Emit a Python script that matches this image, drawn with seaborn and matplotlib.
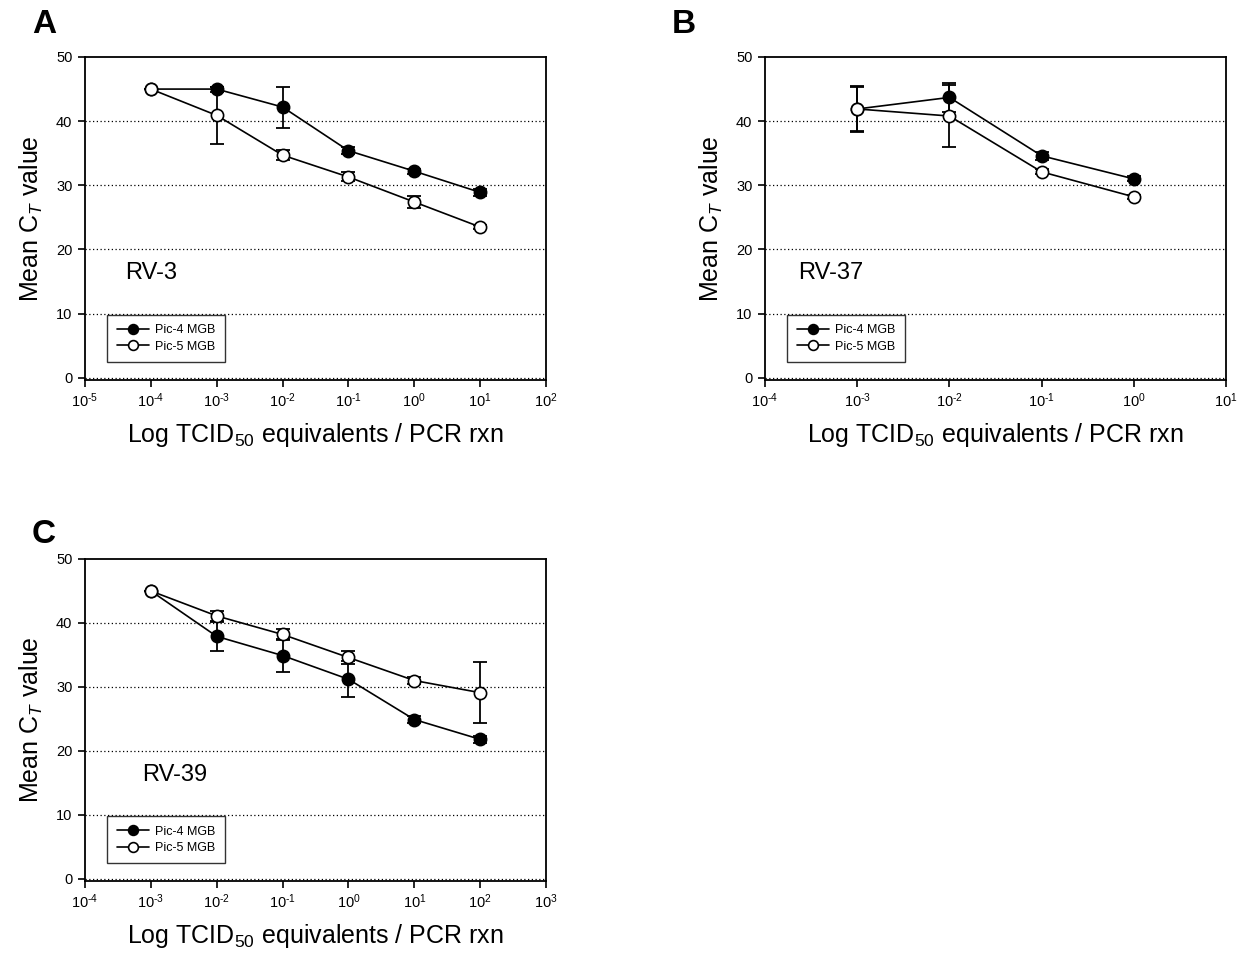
import numpy as np
import pandas as pd
import matplotlib
matplotlib.use("Agg")
import matplotlib.pyplot as plt
import seaborn as sns

sns.set_theme(style="white")
plt.rcParams["font.family"] = ["Liberation Sans", "DejaVu Sans"]
plt.rcParams["mathtext.fontset"] = "custom"
plt.rcParams["mathtext.rm"] = "Liberation Sans"
plt.rcParams["mathtext.it"] = "Liberation Sans:italic"
plt.rcParams["mathtext.bf"] = "Liberation Sans:bold"
for key in ["text.color", "axes.labelcolor", "xtick.color", "ytick.color",
            "axes.edgecolor"]:
    plt.rcParams[key] = "black"

# ---- data: dilution (TCID50 equivalents / reaction), mean CT and error ----
rv3_x = [1e-4, 1e-3, 1e-2, 1e-1, 1e0, 1e1]
rv3_pic4 = [45.0, 45.0, 42.2, 35.4, 32.2, 28.9]
rv3_pic4_err = [0.0, 0.4, 3.2, 0.5, 0.4, 0.5]
rv3_pic5 = [45.0, 40.9, 34.7, 31.3, 27.4, 23.5]
rv3_pic5_err = [0.0, 4.5, 0.8, 0.7, 0.9, 0.3]

rv37_x = [1e-3, 1e-2, 1e-1, 1e0]
rv37_pic4 = [41.9, 43.7, 34.6, 31.0]
rv37_pic4_err = [3.5, 2.3, 0.6, 0.4]
rv37_pic5 = [41.9, 40.8, 32.1, 28.2]
rv37_pic5_err = [3.6, 4.9, 0.4, 0.3]

rv39_x = [1e-3, 1e-2, 1e-1, 1e0, 1e1, 1e2]
rv39_pic4 = [45.0, 37.9, 34.9, 31.2, 24.9, 21.8]
rv39_pic4_err = [0.0, 2.3, 2.6, 2.8, 0.5, 0.5]
rv39_pic5 = [45.0, 41.1, 38.2, 34.6, 31.0, 29.1]
rv39_pic5_err = [0.0, 0.8, 0.8, 1.0, 0.5, 4.8]

series_names = ["Pic-4 MGB", "Pic-5 MGB"]

W, H = 1244, 957
fig = plt.figure(figsize=(W / 100, H / 100), dpi=100)


def px_axes(left, top, right, bottom):
    return fig.add_axes([left / W, 1 - bottom / H, (right - left) / W, (bottom - top) / H])


def decade_label(k):
    sign = r"\text{-}" if k < 0 else ""
    return r"$\mathregular{10^{%s%d}}$" % (sign, abs(k))


def draw_panel(ax, x, p4, p4e, p5, p5e, xlim_exp, tag, tag_pos):
    frames = []
    for name, y, e in [(series_names[0], p4, p4e), (series_names[1], p5, p5e)]:
        frames.append(pd.DataFrame({"dose": x, "ct": y, "err": e, "probe": name}))
    df = pd.concat(frames, ignore_index=True)

    # dotted horizontal reference lines
    for g in [0, 10, 20, 30, 40]:
        ax.axhline(g, color="black", lw=0.9, ls=(0, (1, 2)), zorder=0.5)

    faces = {series_names[0]: "black", series_names[1]: "white"}
    for name in series_names:
        sub = df[df["probe"] == name]
        ax.errorbar(sub["dose"], sub["ct"], yerr=sub["err"], fmt="none",
                    ecolor="black", elinewidth=1.3, capsize=4.8, capthick=1.3,
                    zorder=2)
        sns.lineplot(data=sub, x="dose", y="ct", ax=ax, color="black",
                     lw=1.2, marker="o", markersize=8.8,
                     markerfacecolor=faces[name], markeredgecolor="black",
                     markeredgewidth=1.2, label=name, zorder=3,
                     errorbar=None, sort=False)

    ax.set_xscale("log")
    ax.set_xlim(10.0 ** xlim_exp[0], 10.0 ** xlim_exp[1])
    ax.set_ylim(-0.35, 50)
    exps = list(range(xlim_exp[0], xlim_exp[1] + 1))
    ax.set_xticks([10.0 ** k for k in exps])
    ax.set_xticklabels([decade_label(k) for k in exps])
    ax.xaxis.set_minor_locator(matplotlib.ticker.NullLocator())
    ax.set_yticks([0, 10, 20, 30, 40, 50])
    ax.tick_params(axis="both", direction="out", length=5, width=1.2,
                   labelsize=10.5, colors="black", pad=4)
    ax.tick_params(axis="x", bottom=True, top=False, pad=3)
    ax.tick_params(axis="y", left=True, right=False)
    for s in ax.spines.values():
        s.set_color("black")
        s.set_linewidth(1.3)

    ax.set_xlabel(r"Log TCID$\mathregular{_{50}}$ equivalents / PCR rxn",
                  fontsize=18, labelpad=8)
    ax.set_ylabel(r"Mean C$\mathregular{_{\mathit{T}}}$ value", fontsize=18,
                  labelpad=8)

    ax.text(tag_pos[0], tag_pos[1], tag, transform=ax.transAxes,
            fontsize=17, va="center", ha="left", color="black")

    leg = ax.legend(loc="lower left", bbox_to_anchor=(0.048, 0.055),
                    fontsize=9, frameon=True, fancybox=False,
                    edgecolor="black", handlelength=2.6, handletextpad=0.5,
                    borderpad=0.75, labelspacing=0.35, borderaxespad=0,
                    markerscale=0.8)
    leg.get_frame().set_linewidth(1.0)
    for t in leg.get_texts():
        t.set_color("black")


axA = px_axes(85, 57, 546, 380)
draw_panel(axA, rv3_x, rv3_pic4, rv3_pic4_err, rv3_pic5, rv3_pic5_err,
           (-5, 2), "RV-3", (0.087, 0.33))

axB = px_axes(765, 57, 1226, 380)
draw_panel(axB, rv37_x, rv37_pic4, rv37_pic4_err, rv37_pic5, rv37_pic5_err,
           (-4, 1), "RV-37", (0.072, 0.33))

axC = px_axes(85, 559, 546, 881)
draw_panel(axC, rv39_x, rv39_pic4, rv39_pic4_err, rv39_pic5, rv39_pic5_err,
           (-4, 3), "RV-39", (0.124, 0.33))

for letter, lx, ly in [("A", 32, 33), ("B", 672, 33), ("C", 32, 543)]:
    fig.text(lx / W, 1 - ly / H, letter, fontsize=24, fontweight="bold",
             ha="left", va="baseline", color="black")

fig.savefig("out.png", dpi=100)
